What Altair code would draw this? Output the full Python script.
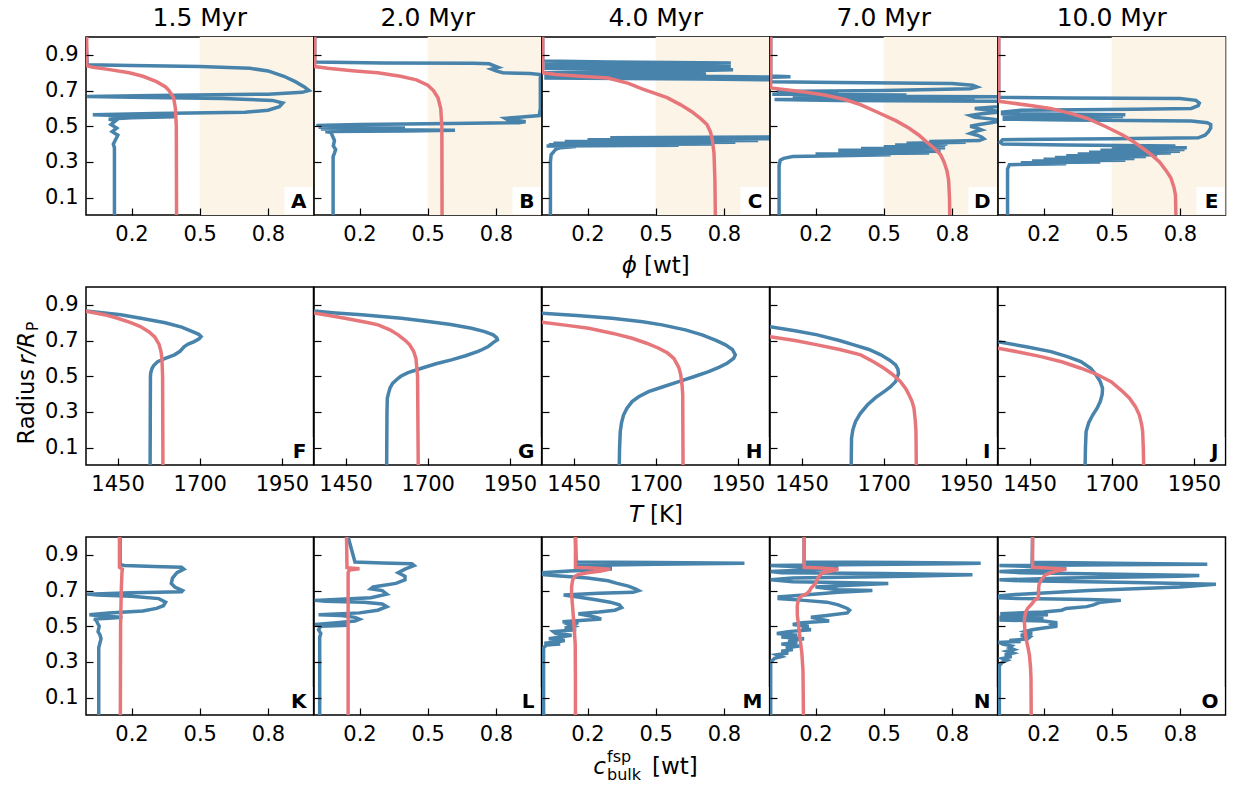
import altair as alt
import pandas as pd

FONT = "DejaVu Sans"
BLUE = "#4783ab"
RED = "#e7767b"
SHADE = "#fcf4e7"

TIMES = ["1.5 Myr", "2.0 Myr", "4.0 Myr", "7.0 Myr", "10.0 Myr"]
LETTERS = [["A", "B", "C", "D", "E"], ["F", "G", "H", "I", "J"], ["K", "L", "M", "N", "O"]]
R_TICKS = [0.1, 0.3, 0.5, 0.7, 0.9]
PHI_TICKS = [0.2, 0.5, 0.8]
T_TICKS = [1450, 1700, 1950]
C_TICKS = [0.2, 0.5, 0.8]
R_DOMAIN = [0.003, 1.0]
PHI_DOMAIN = [0.0, 1.0]
T_DOMAIN = [1354, 2046]
C_DOMAIN = [0.0, 1.0]
SHADE_SPAN = [(0.5, 1.0)]

# ---------- row 1: melt fraction phi (r, phi) ----------
A_BLUE = [(0.003, 0.125), (0.38, 0.125), (0.40, 0.12), (0.42, 0.128), (0.45, 0.14), (0.47, 0.115),
          (0.49, 0.135), (0.51, 0.11), (0.53, 0.13), (0.54, 0.10), (0.548, 0.2), (0.553, 0.39),
          (0.558, 0.2), (0.565, 0.03), (0.572, 0.3), (0.578, 0.7), (0.59, 0.80), (0.61, 0.85),
          (0.63, 0.865), (0.645, 0.82), (0.655, 0.6), (0.662, 0.2), (0.667, 0.005), (0.672, 0.3),
          (0.68, 0.8), (0.69, 0.95), (0.70, 0.98), (0.72, 0.96), (0.75, 0.92), (0.78, 0.87),
          (0.81, 0.80), (0.825, 0.72), (0.835, 0.5), (0.84, 0.2), (0.845, 0.005), (1.0, 0.0)]
A_RED = [(0.003, 0.398), (0.5, 0.397), (0.60, 0.393), (0.66, 0.385), (0.70, 0.365), (0.72, 0.35),
         (0.75, 0.31), (0.78, 0.25), (0.80, 0.19), (0.82, 0.09), (0.83, 0.03), (0.84, 0.003), (1.0, 0.003)]

B_BLUE = [(0.003, 0.084), (0.33, 0.084), (0.35, 0.09), (0.37, 0.095), (0.39, 0.085), (0.42, 0.09),
          (0.45, 0.08), (0.465, 0.075), (0.47, 0.05), (0.474, 0.4), (0.477, 0.62), (0.48, 0.3),
          (0.485, 0.03), (0.49, 0.4), (0.495, 0.02), (0.50, 0.3), (0.505, 0.01), (0.51, 0.2),
          (0.515, 0.6), (0.52, 0.90), (0.525, 0.93), (0.53, 0.91), (0.538, 0.85), (0.545, 0.84),
          (0.55, 0.90), (0.56, 0.99), (0.60, 0.995), (0.70, 0.995), (0.79, 0.995), (0.795, 0.95),
          (0.80, 0.83), (0.81, 0.80), (0.82, 0.78), (0.83, 0.81), (0.84, 0.79), (0.85, 0.77),
          (0.853, 0.7), (0.855, 0.3), (0.86, 0.003), (1.0, 0.003)]
B_RED = [(0.003, 0.563), (0.5, 0.562), (0.60, 0.557), (0.66, 0.545), (0.70, 0.525), (0.73, 0.50),
         (0.76, 0.45), (0.78, 0.38), (0.80, 0.28), (0.81, 0.18), (0.825, 0.06), (0.835, 0.003), (1.0, 0.003)]

C_BLUE = [(0.003, 0.037), (0.30, 0.037), (0.34, 0.04), (0.37, 0.06), (0.38, 0.08), (0.386, 0.15),
          (0.389, 0.02), (0.393, 0.6), (0.396, 0.03), (0.40, 0.75), (0.405, 0.05), (0.41, 0.85),
          (0.415, 0.1), (0.42, 0.95), (0.425, 0.2), (0.43, 1.05), (0.435, 0.3), (0.44, 1.05),
          (0.76, 1.05), (0.765, 0.7), (0.77, 0.01), (0.775, 1.05), (0.78, 0.7), (0.785, 0.01),
          (0.79, 0.7), (0.797, 0.72), (0.80, 0.01), (0.81, 0.6), (0.816, 0.84), (0.82, 0.3),
          (0.825, 0.01), (0.83, 0.32), (0.835, 0.83), (0.84, 0.32), (0.845, 0.01), (0.85, 0.6),
          (0.855, 0.83), (0.86, 0.3), (0.865, 0.003), (1.0, 0.003)]
C_RED = [(0.003, 0.762), (0.2, 0.760), (0.35, 0.756), (0.43, 0.748), (0.47, 0.740), (0.51, 0.725),
         (0.54, 0.70), (0.58, 0.66), (0.62, 0.61), (0.66, 0.55), (0.71, 0.44), (0.74, 0.38),
         (0.77, 0.29), (0.78, 0.17), (0.79, 0.06), (0.80, 0.003), (1.0, 0.003)]

D_BLUE = [(0.003, 0.04), (0.28, 0.04), (0.31, 0.045), (0.32, 0.06), (0.33, 0.1), (0.335, 0.3),
          (0.34, 0.53), (0.345, 0.2), (0.35, 0.7), (0.355, 0.3), (0.36, 0.75), (0.365, 0.3),
          (0.37, 0.72), (0.375, 0.4), (0.38, 0.77), (0.385, 0.5), (0.39, 0.77), (0.395, 0.55),
          (0.40, 0.78), (0.405, 0.6), (0.41, 0.86), (0.415, 0.7), (0.42, 0.92), (0.43, 0.94),
          (0.44, 0.93), (0.45, 0.91), (0.46, 0.88), (0.47, 0.90), (0.48, 0.93), (0.49, 0.91),
          (0.50, 0.88), (0.51, 0.92), (0.52, 0.97), (0.53, 1.02), (0.54, 0.98), (0.55, 0.90),
          (0.56, 0.88), (0.57, 0.93), (0.58, 1.02), (0.59, 0.97), (0.60, 0.90), (0.61, 1.0),
          (0.62, 1.05), (0.64, 1.05), (0.645, 0.3), (0.65, 0.02), (0.655, 0.9), (0.66, 0.3),
          (0.665, 1.05), (0.67, 0.1), (0.675, 0.6), (0.68, 0.01), (0.69, 0.3), (0.695, 0.03),
          (0.70, 0.5), (0.71, 0.88), (0.72, 0.91), (0.73, 0.89), (0.74, 0.80), (0.745, 0.3),
          (0.75, 0.003), (0.775, 0.003), (0.778, 0.09), (0.782, 0.003), (1.0, 0.003)]
D_RED = [(0.003, 0.79), (0.1, 0.789), (0.2, 0.785), (0.25, 0.778), (0.30, 0.765), (0.34, 0.75),
         (0.38, 0.72), (0.41, 0.69), (0.45, 0.655), (0.49, 0.61), (0.53, 0.555), (0.58, 0.47),
         (0.62, 0.40), (0.65, 0.33), (0.675, 0.24), (0.69, 0.16), (0.705, 0.07), (0.715, 0.003), (1.0, 0.003)]

E_BLUE = [(0.003, 0.042), (0.26, 0.042), (0.285, 0.05), (0.29, 0.30), (0.295, 0.1), (0.30, 0.45),
          (0.305, 0.15), (0.31, 0.56), (0.315, 0.2), (0.32, 0.6), (0.325, 0.25), (0.33, 0.65),
          (0.335, 0.3), (0.34, 0.70), (0.345, 0.35), (0.35, 0.76), (0.355, 0.4), (0.36, 0.80),
          (0.365, 0.45), (0.37, 0.82), (0.375, 0.5), (0.38, 0.83), (0.385, 0.55), (0.39, 0.78),
          (0.395, 0.3), (0.40, 0.02), (0.41, 0.01), (0.425, 0.02), (0.43, 0.5), (0.435, 0.88),
          (0.45, 0.91), (0.47, 0.925), (0.49, 0.935), (0.51, 0.935), (0.52, 0.92), (0.53, 0.85),
          (0.535, 0.3), (0.54, 0.02), (0.545, 0.5), (0.55, 0.02), (0.555, 0.55), (0.56, 0.03),
          (0.565, 0.56), (0.57, 0.02), (0.58, 0.02), (0.59, 0.1), (0.595, 0.6), (0.60, 0.85),
          (0.615, 0.88), (0.63, 0.885), (0.645, 0.87), (0.655, 0.8), (0.658, 0.3), (0.662, 0.003),
          (1.0, 0.003)]
E_RED = [(0.003, 0.782), (0.115, 0.78), (0.16, 0.773), (0.21, 0.76), (0.25, 0.74), (0.30, 0.71),
         (0.34, 0.675), (0.377, 0.636), (0.41, 0.60), (0.45, 0.55), (0.50, 0.47), (0.545, 0.39),
         (0.575, 0.31), (0.60, 0.23), (0.615, 0.15), (0.63, 0.06), (0.64, 0.003), (1.0, 0.003)]

# ---------- row 2: temperature T (r, T) ----------
F_BLUE = [(0.003, 1549), (0.5, 1550), (0.52, 1551), (0.545, 1555), (0.56, 1560), (0.582, 1572),
          (0.60, 1595), (0.62, 1623), (0.64, 1640), (0.666, 1653), (0.68, 1665), (0.694, 1683),
          (0.71, 1698), (0.722, 1704), (0.735, 1697), (0.75, 1678), (0.775, 1645), (0.80, 1595),
          (0.825, 1521), (0.845, 1460), (0.866, 1354), (0.88, 1300)]
F_RED = [(0.003, 1588), (0.5, 1587), (0.60, 1585), (0.64, 1582), (0.68, 1576), (0.72, 1563),
         (0.75, 1545), (0.78, 1518), (0.80, 1490), (0.825, 1450), (0.845, 1410), (0.865, 1354), (0.88, 1300)]

G_BLUE = [(0.003, 1575), (0.3, 1576), (0.377, 1577), (0.40, 1580), (0.433, 1585), (0.46, 1593),
          (0.489, 1610), (0.50, 1618), (0.52, 1640), (0.545, 1681), (0.57, 1725), (0.592, 1772),
          (0.615, 1815), (0.639, 1853), (0.65, 1866), (0.667, 1884), (0.69, 1900), (0.704, 1912),
          (0.715, 1910), (0.732, 1899), (0.75, 1873), (0.769, 1833), (0.79, 1770), (0.807, 1701),
          (0.825, 1620), (0.844, 1499), (0.855, 1420), (0.866, 1354), (0.88, 1300)]
G_RED = [(0.003, 1671), (0.5, 1669), (0.60, 1664), (0.64, 1657), (0.676, 1645), (0.70, 1632),
         (0.732, 1610), (0.76, 1585), (0.788, 1549), (0.80, 1520), (0.825, 1448), (0.84, 1400),
         (0.855, 1354), (0.88, 1300)]

H_BLUE = [(0.003, 1589), (0.1, 1590), (0.19, 1592), (0.24, 1596), (0.283, 1602), (0.32, 1612),
          (0.358, 1628), (0.385, 1648), (0.414, 1678), (0.44, 1720), (0.47, 1770), (0.50, 1820),
          (0.526, 1861), (0.55, 1892), (0.573, 1917), (0.60, 1937), (0.62, 1942), (0.65, 1933),
          (0.676, 1912), (0.70, 1885), (0.732, 1841), (0.76, 1790), (0.788, 1719), (0.805, 1660),
          (0.825, 1567), (0.84, 1460), (0.853, 1354), (0.87, 1250)]
H_RED = [(0.003, 1783), (0.40, 1782), (0.45, 1780), (0.508, 1776), (0.55, 1770), (0.60, 1755),
         (0.63, 1736), (0.657, 1709), (0.685, 1672), (0.713, 1628), (0.74, 1570), (0.769, 1496),
         (0.785, 1430), (0.803, 1354), (0.83, 1250)]

I_BLUE = [(0.003, 1601), (0.153, 1602), (0.2, 1606), (0.246, 1614), (0.29, 1628), (0.339, 1650),
          (0.38, 1675), (0.414, 1701), (0.44, 1720), (0.47, 1736), (0.495, 1741), (0.517, 1745),
          (0.54, 1743), (0.564, 1736), (0.59, 1718), (0.62, 1691), (0.65, 1655), (0.676, 1609),
          (0.70, 1565), (0.732, 1498), (0.755, 1430), (0.778, 1354), (0.80, 1250)]
I_RED = [(0.003, 1799), (0.19, 1798), (0.25, 1796), (0.32, 1792), (0.36, 1786), (0.395, 1777),
         (0.43, 1767), (0.47, 1751), (0.51, 1727), (0.545, 1701), (0.58, 1670), (0.62, 1630),
         (0.65, 1566), (0.676, 1498), (0.70, 1430), (0.722, 1354), (0.75, 1250)]

J_BLUE = [(0.003, 1619), (0.1, 1620), (0.19, 1622), (0.24, 1630), (0.283, 1642), (0.32, 1655),
          (0.358, 1665), (0.40, 1671), (0.433, 1672), (0.47, 1665), (0.508, 1652), (0.545, 1636),
          (0.582, 1606), (0.61, 1565), (0.638, 1515), (0.665, 1440), (0.694, 1354), (0.72, 1250)]
J_RED = [(0.003, 1797), (0.1, 1796), (0.19, 1794), (0.23, 1791), (0.283, 1784), (0.33, 1772),
         (0.377, 1754), (0.42, 1730), (0.47, 1698), (0.51, 1655), (0.545, 1606), (0.58, 1550),
         (0.61, 1485), (0.635, 1420), (0.657, 1354), (0.68, 1250)]

# ---------- row 3: bulk feldspar content c (r, c) ----------
K_BLUE = [(0.003, 0.056), (0.38, 0.056), (0.40, 0.06), (0.43, 0.066), (0.45, 0.062), (0.47, 0.053),
          (0.50, 0.058), (0.52, 0.05), (0.535, 0.045), (0.54, 0.035), (0.545, 0.10), (0.55, 0.16),
          (0.555, 0.10), (0.56, 0.05), (0.565, 0.015), (0.575, 0.10), (0.585, 0.25), (0.60, 0.31),
          (0.615, 0.34), (0.635, 0.35), (0.655, 0.32), (0.668, 0.2), (0.675, 0.05), (0.68, 0.005),
          (0.688, 0.2), (0.693, 0.42), (0.70, 0.425), (0.72, 0.39), (0.74, 0.375), (0.77, 0.38),
          (0.80, 0.40), (0.82, 0.43), (0.83, 0.42), (0.835, 0.3), (0.84, 0.17), (0.845, 0.15), (1.0, 0.15)]
K_RED = [(0.003, 0.151), (0.5, 0.152), (0.7, 0.155), (0.80, 0.158), (0.82, 0.16), (0.83, 0.147), (1.0, 0.147)]

L_BLUE = [(0.003, 0.025), (0.44, 0.025), (0.46, 0.03), (0.48, 0.02), (0.50, 0.03), (0.505, 0.15),
          (0.51, 0.005), (0.52, 0.10), (0.53, 0.18), (0.54, 0.20), (0.55, 0.18), (0.56, 0.12),
          (0.565, 0.02), (0.575, 0.2), (0.59, 0.28), (0.61, 0.32), (0.625, 0.30), (0.635, 0.22),
          (0.64, 0.05), (0.645, 0.003), (0.66, 0.25), (0.68, 0.32), (0.70, 0.30), (0.71, 0.25),
          (0.72, 0.26), (0.74, 0.36), (0.76, 0.40), (0.78, 0.40), (0.80, 0.37), (0.82, 0.40),
          (0.84, 0.44), (0.85, 0.43), (0.855, 0.3), (0.86, 0.18), (1.0, 0.15)]
L_RED = [(0.003, 0.15), (0.5, 0.15), (0.80, 0.15), (0.815, 0.155), (0.822, 0.2), (0.828, 0.145), (1.0, 0.143)]

M_BLUE = [(0.003, 0.007), (0.38, 0.007), (0.395, 0.02), (0.40, 0.08), (0.405, 0.01), (0.41, 0.06),
          (0.42, 0.10), (0.43, 0.03), (0.44, 0.08), (0.45, 0.13), (0.46, 0.06), (0.47, 0.05),
          (0.48, 0.15), (0.49, 0.10), (0.50, 0.14), (0.51, 0.12), (0.52, 0.16), (0.525, 0.09),
          (0.535, 0.2), (0.54, 0.26), (0.55, 0.24), (0.56, 0.20), (0.57, 0.16), (0.58, 0.25),
          (0.59, 0.32), (0.605, 0.35), (0.62, 0.34), (0.635, 0.30), (0.65, 0.23), (0.665, 0.15),
          (0.675, 0.095), (0.685, 0.25), (0.69, 0.40), (0.70, 0.425), (0.71, 0.41), (0.725, 0.38),
          (0.74, 0.33), (0.755, 0.29), (0.77, 0.20), (0.785, 0.05), (0.79, 0.003), (0.80, 0.003),
          (0.81, 0.12), (0.82, 0.30), (0.83, 0.3), (0.84, 0.15), (0.848, 0.5), (0.853, 0.89),
          (0.857, 0.5), (0.86, 0.15), (1.0, 0.147)]
M_RED = [(0.003, 0.147), (0.2, 0.147), (0.40, 0.146), (0.50, 0.141), (0.60, 0.135), (0.68, 0.130),
         (0.72, 0.130), (0.76, 0.135), (0.78, 0.145), (0.79, 0.16), (0.80, 0.20), (0.81, 0.26),
         (0.82, 0.30), (0.826, 0.22), (0.83, 0.147), (1.0, 0.147)]

N_BLUE = [(0.003, 0.003), (0.30, 0.003), (0.32, 0.02), (0.33, 0.05), (0.34, 0.03), (0.35, 0.08),
          (0.36, 0.05), (0.37, 0.10), (0.38, 0.07), (0.39, 0.13), (0.40, 0.05), (0.41, 0.12),
          (0.42, 0.08), (0.43, 0.15), (0.44, 0.05), (0.45, 0.12), (0.46, 0.03), (0.47, 0.08),
          (0.48, 0.18), (0.49, 0.14), (0.50, 0.17), (0.51, 0.10), (0.52, 0.14), (0.53, 0.26),
          (0.54, 0.22), (0.55, 0.18), (0.56, 0.25), (0.575, 0.34), (0.59, 0.35), (0.60, 0.34),
          (0.62, 0.30), (0.635, 0.25), (0.645, 0.15), (0.655, 0.04), (0.665, 0.04), (0.675, 0.15),
          (0.69, 0.30), (0.70, 0.45), (0.705, 0.30), (0.72, 0.20), (0.73, 0.35), (0.74, 0.52),
          (0.745, 0.3), (0.75, 0.10), (0.76, 0.003), (0.77, 0.10), (0.78, 0.6), (0.788, 0.89),
          (0.795, 0.5), (0.80, 0.05), (0.807, 0.003), (0.815, 0.15), (0.825, 0.30), (0.835, 0.10),
          (0.84, 0.003), (0.845, 0.3), (0.85, 0.80), (0.853, 0.926), (0.857, 0.6), (0.86, 0.15), (1.0, 0.15)]
N_RED = [(0.003, 0.147), (0.25, 0.145), (0.35, 0.14), (0.433, 0.132), (0.50, 0.126), (0.564, 0.12),
         (0.62, 0.12), (0.657, 0.127), (0.67, 0.14), (0.685, 0.164), (0.70, 0.175), (0.713, 0.18),
         (0.74, 0.20), (0.77, 0.21), (0.80, 0.23), (0.81, 0.27), (0.82, 0.30), (0.826, 0.22),
         (0.83, 0.15), (1.0, 0.15)]

O_BLUE = [(0.003, 0.006), (0.28, 0.006), (0.30, 0.02), (0.31, 0.04), (0.32, 0.02), (0.33, 0.06),
          (0.34, 0.03), (0.35, 0.065), (0.36, 0.04), (0.37, 0.07), (0.38, 0.05), (0.39, 0.06),
          (0.40, 0.02), (0.41, 0.006), (0.415, 0.1), (0.42, 0.05), (0.43, 0.13), (0.44, 0.14),
          (0.45, 0.10), (0.46, 0.15), (0.47, 0.12), (0.48, 0.15), (0.49, 0.2), (0.50, 0.26),
          (0.51, 0.24), (0.52, 0.26), (0.53, 0.2), (0.535, 0.006), (0.545, 0.2), (0.55, 0.006),
          (0.555, 0.2), (0.56, 0.01), (0.565, 0.22), (0.57, 0.01), (0.58, 0.2), (0.59, 0.28),
          (0.60, 0.30), (0.61, 0.39), (0.62, 0.42), (0.635, 0.45), (0.645, 0.54), (0.65, 0.4),
          (0.655, 0.1), (0.66, 0.006), (0.67, 0.006), (0.68, 0.1), (0.70, 0.4), (0.72, 0.8),
          (0.735, 0.958), (0.745, 0.6), (0.755, 0.1), (0.76, 0.006), (0.77, 0.3), (0.78, 0.8),
          (0.785, 0.885), (0.79, 0.6), (0.80, 0.1), (0.807, 0.006), (0.815, 0.2), (0.825, 0.3),
          (0.835, 0.15), (0.84, 0.006), (0.845, 0.5), (0.848, 0.92), (0.852, 0.6), (0.858, 0.15), (1.0, 0.152)]
O_RED = [(0.003, 0.146), (0.209, 0.145), (0.27, 0.143), (0.34, 0.138), (0.38, 0.132), (0.433, 0.123),
         (0.48, 0.118), (0.526, 0.116), (0.55, 0.117), (0.582, 0.123), (0.60, 0.13), (0.63, 0.152),
         (0.645, 0.16), (0.66, 0.178), (0.70, 0.178), (0.732, 0.18), (0.76, 0.19), (0.79, 0.21),
         (0.81, 0.26), (0.82, 0.30), (0.826, 0.22), (0.83, 0.152), (1.0, 0.152)]

PROFILES = [
    [(A_BLUE, A_RED), (B_BLUE, B_RED), (C_BLUE, C_RED), (D_BLUE, D_RED), (E_BLUE, E_RED)],
    [(F_BLUE, F_RED), (G_BLUE, G_RED), (H_BLUE, H_RED), (I_BLUE, I_RED), (J_BLUE, J_RED)],
    [(K_BLUE, K_RED), (L_BLUE, L_RED), (M_BLUE, M_RED), (N_BLUE, N_RED), (O_BLUE, O_RED)],
]
ROW_X = [(PHI_DOMAIN, PHI_TICKS, ".1f"), (T_DOMAIN, T_TICKS, "d"), (C_DOMAIN, C_TICKS, ".1f")]

W, H = 227.5, 178
ONE = pd.DataFrame({"k": [0]})


def txt(text, x, y, size=23, style="normal", weight="normal", align="left", baseline="alphabetic", angle=0):
    kw = dict(text=text, font=FONT, fontSize=size, fontStyle=style, fontWeight=weight,
              align=align, baseline=baseline, color="black")
    if angle:
        kw["angle"] = angle
    return alt.Chart(ONE).mark_text(**kw).encode(x=alt.value(x), y=alt.value(y))


def panel(row, col):
    blue, red = PROFILES[row][col]
    xdom, xticks, xfmt = ROW_X[row]
    xs = alt.Scale(domain=xdom, nice=False, zero=False)
    ys = alt.Scale(domain=R_DOMAIN, nice=False, zero=False)
    xaxis = alt.Axis(values=xticks, format=xfmt, title=None, grid=False, domain=False,
                     tickSize=7, tickWidth=1.2, tickColor="black", offset=-7, zindex=1,
                     labelFont=FONT, labelFontSize=21, labelColor="black", labelPadding=8)
    yaxis = alt.Axis(values=R_TICKS, format=".1f", title=None, grid=False, domain=False,
                     labels=(col == 0), tickSize=7, tickWidth=1.2, tickColor="black",
                     offset=-7, zindex=1, labelFont=FONT, labelFontSize=21,
                     labelColor="black", labelPadding=8)
    layers = []
    if row == 0:
        layers.append(alt.Chart(pd.DataFrame(SHADE_SPAN, columns=["x0", "x1"])).mark_rect(color=SHADE).encode(
            x=alt.X("x0:Q", scale=xs, axis=xaxis), x2="x1:Q", y=alt.value(0), y2=alt.value(H)))
    for pts, colr in ((blue, BLUE), (red, RED)):
        df = pd.DataFrame(pts, columns=["r", "v"])
        layers.append(alt.Chart(df).mark_line(color=colr, strokeWidth=3.5, clip=True).encode(
            x=alt.X("v:Q", scale=xs, axis=xaxis),
            y=alt.Y("r:Q", scale=ys, axis=yaxis),
            order="r:Q"))
    layers.append(alt.Chart(ONE).mark_rect(color="white").encode(
        x=alt.value(W - 29), x2=alt.value(W - 1), y=alt.value(H - 28), y2=alt.value(H - 1)))
    layers.append(txt(LETTERS[row][col], W - 7, H - 7, size=20, weight="bold", align="right"))
    if row == 0:
        layers.append(txt(TIMES[col], W / 2, -11.5, size=25, align="center"))
    if row == 0 and col == 0:
        layers.append(alt.Chart(ONE).mark_rule(color="white", strokeWidth=1).encode(
            x=alt.value(-84.5), x2=alt.value(-84), y=alt.value(-35)))
    if row == 1 and col == 0:
        layers.append(txt("Radius", -52, 157.5, size=22.5, angle=270))
        layers.append(txt("r/R", -52, 77.5, size=22.5, style="italic", angle=270))
        layers.append(txt("P", -48, 44, size=15.5, angle=270))
    if col == 2:
        if row == 0:
            layers.append(txt("ϕ", 95, 235.5, style="italic", align="right"))
            layers.append(txt("[wt]", 102, 235.5))
        elif row == 1:
            layers.append(txt("T", 101, 234.5, style="italic", align="right"))
            layers.append(txt("[K]", 108, 234.5))
        else:
            layers.append(txt("c", 64, 236.5, style="italic", align="right"))
            layers.append(txt("fsp", 65, 225, size=16))
            layers.append(txt("bulk", 65, 243, size=16))
            layers.append(txt("[wt]", 110, 236.5))
    return alt.layer(*layers).properties(width=W, height=H)


panels = [panel(r, c) for r in range(3) for c in range(5)]
chart = alt.concat(*panels, columns=5).properties(
    spacing=alt.RowColnumber(row=72, column=0), bounds="flush", padding=0, background="white"
).configure_view(stroke="black", strokeWidth=1.5)

chart.save("out.html", embed_options={"renderer": "svg", "actions": False})
